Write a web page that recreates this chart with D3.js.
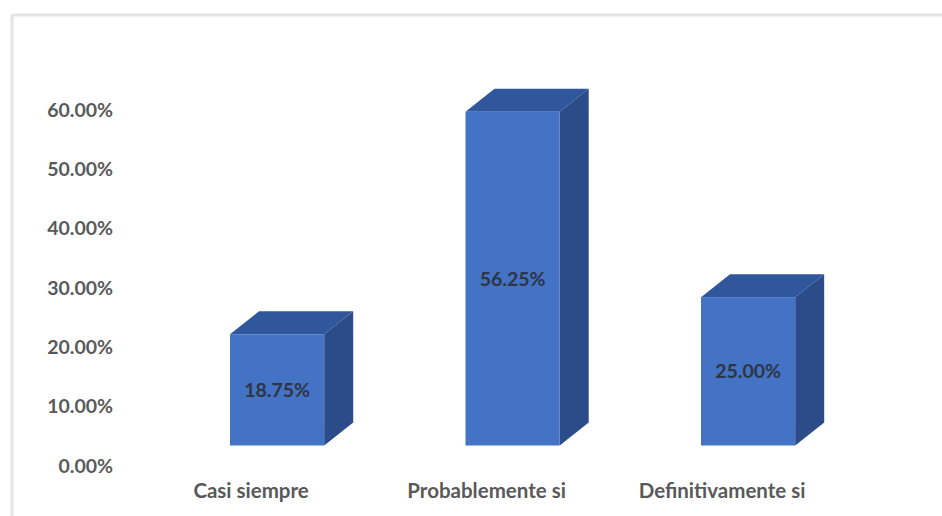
<!DOCTYPE html>
<html>
<head>
<meta charset="utf-8">
<script src="https://cdn.jsdelivr.net/npm/d3@7"></script>
<style>
  html, body { margin: 0; padding: 0; background: #ffffff; }
  svg { display: block; }
</style>
</head>
<body>
<svg id="chart" width="942" height="516"></svg>
<script>
// Survey answers and their share of responses
const categories = ["Casi siempre", "Probablemente si", "Definitivamente si"];
const shares = [0.1875, 0.5625, 0.25];
const shareLabels = ["18.75%", "56.25%", "25.00%"];
const yTicks = [0, 0.1, 0.2, 0.3, 0.4, 0.5, 0.6];

const W = 942, H = 516;
const svg = d3.select("#chart");

// Chart frame
svg.append("line").attr("x1", 12).attr("y1", 15).attr("x2", W).attr("y2", 15)
  .attr("stroke", "#e4e4e4").attr("stroke-width", 3);
svg.append("line").attr("x1", 12).attr("y1", 15).attr("x2", 12).attr("y2", H)
  .attr("stroke", "#e4e4e4").attr("stroke-width", 3);

// Scales
const y = d3.scaleLinear().domain([0, 0.6]).range([465, 109]);
const x = d3.scaleBand().domain(categories).range([135.8, 889.4])
  .paddingInner(0.6).paddingOuter(0.4);

// 3D box geometry: front face sits a little below the wall baseline,
// depth goes up and to the right
const frontDrop = -19.5;
const depthX = 29, depthY = -23;

// Y axis labels (no line, no ticks)
const yAxis = d3.axisLeft(y).tickValues(yTicks)
  .tickFormat(d3.format(".2%")).tickSize(0).tickPadding(0);
const yg = svg.append("g").attr("transform", "translate(113,0)").call(yAxis);
yg.select(".domain").remove();
yg.selectAll("text")
  .attr("font-family", "Lato, 'Open Sans', sans-serif")
  .attr("font-weight", 700)
  .attr("font-size", "19.5px")
  .attr("fill", "#595959")
  .attr("dy", "0.36em");

// Bars
const bars = svg.append("g").selectAll("g.bar")
  .data(categories.map((c, i) => ({ c, v: shares[i], label: shareLabels[i] })))
  .join("g").attr("class", "bar");

bars.each(function (d) {
  const g = d3.select(this);
  const x0 = x(d.c), x1 = x0 + x.bandwidth();
  const yt = y(d.v) + frontDrop, yb = y(0) + frontDrop;
  const pts = a => a.map(p => p.join(",")).join(" ");
  // top face
  g.append("polygon")
    .attr("points", pts([[x0, yt], [x0 + depthX, yt + depthY], [x1 + depthX, yt + depthY], [x1, yt]]))
    .attr("fill", "#30569c");
  // side face
  g.append("polygon")
    .attr("points", pts([[x1, yt], [x1 + depthX, yt + depthY], [x1 + depthX, yb + depthY], [x1, yb]]))
    .attr("fill", "#2b4b89");
  // front face
  g.append("rect")
    .attr("x", x0).attr("y", yt).attr("width", x1 - x0).attr("height", yb - yt)
    .attr("fill", "#4472c4");
  // value label
  g.append("text")
    .attr("x", (x0 + x1) / 2).attr("y", (yt + yb) / 2)
    .attr("dy", "0.36em")
    .attr("text-anchor", "middle")
    .attr("font-family", "Lato, 'Open Sans', sans-serif")
    .attr("font-weight", 700)
    .attr("font-size", "19.5px")
    .attr("fill", "#2e3545")
    .text(d.label);
});

// Category labels
svg.append("g").selectAll("text")
  .data(categories)
  .join("text")
  .attr("x", d => x(d) + x.bandwidth() / 2 - 26)
  .attr("y", 498)
  .attr("text-anchor", "middle")
  .attr("font-family", "Lato, 'Open Sans', sans-serif")
  .attr("font-weight", 700)
  .attr("font-size", "20.5px")
  .attr("fill", "#595959")
  .text(d => d);
</script>
</body>
</html>
